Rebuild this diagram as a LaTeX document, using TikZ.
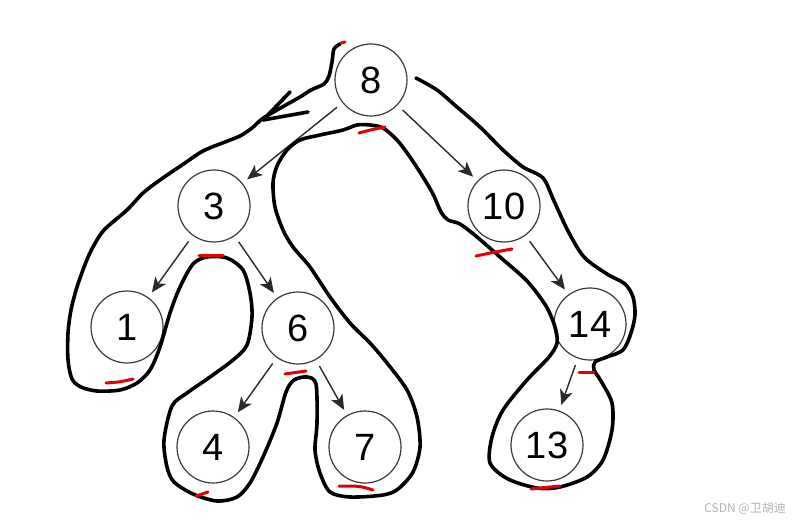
\documentclass[tikz,border=0pt]{standalone}
\usepackage{fontspec}
\setmainfont{Liberation Sans}
\newfontfamily\cjkfont{Noto Sans CJK SC}
\usetikzlibrary{arrows.meta}
\definecolor{nodeline}{HTML}{3A3A3A}
\definecolor{edgeline}{HTML}{2A2A2A}
\definecolor{wm}{HTML}{B4B4B4}
\tikzset{
  treenode/.style={circle, draw=nodeline, line width=1.2pt, fill=white, minimum size=72pt, inner sep=0pt, font=\fontsize{38}{40}\selectfont},
  treeedge/.style={draw=edgeline, line width=1.4pt, -{Stealth[length=15pt,width=13pt,inset=4pt]}, shorten <=7pt, shorten >=6pt},
  contour/.style={black, line width=3.6pt, line cap=round, line join=round},
  redmark/.style={red!90!black, line width=3pt, line cap=round}
}
\begin{document}
\begin{tikzpicture}[x=1pt,y=-1pt]
\useasboundingbox (0,0) rectangle (792,524);
\fill[white] (0,0) rectangle (792,524);

% tree nodes
\node[treenode] (n8)  at (371,80)  {8};
\node[treenode] (n3)  at (214,206) {3};
\node[treenode] (n10) at (504,206) {10};
\node[treenode] (n1)  at (127,327) {1};
\node[treenode] (n6)  at (298,328) {6};
\node[treenode] (n14) at (590,324) {14};
\node[treenode] (n4)  at (213,447) {4};
\node[treenode] (n7)  at (365,447) {7};
\node[treenode] (n13) at (547,445) {13};

% tree edges
\draw[treeedge] (n8) -- (n3);
\draw[treeedge] (n8) -- (n10);
\draw[treeedge] (n3) -- (n1);
\draw[treeedge] (n3) -- (n6);
\draw[treeedge] (n6) -- (n4);
\draw[treeedge] (n6) -- (n7);
\draw[treeedge] (n10) -- (n14);
\draw[treeedge] (n14) -- (n13);

% contour (hand-drawn tour), drawn over the tree
\draw[contour] plot[smooth, tension=0.5] coordinates {
 (340,44) (334,49) (332,62) (329,76) (324,84) (311,90) (300,97) (277,110) (262,119) (252,128) (240,136)
 (225,142) (203,151) (182,165) (160,180) (143,193) (127,210) (104,230) (93,247) (86,262) (77,287) (71,310)
 (68,333) (68,360) (72,379) (81,387) (97,391) (120,390) (137,383) (150,370) (160,347) (170,313) (180,287)
 (193,264) (207,257) (227,258) (243,270) (250,293) (252,317) (247,345) (233,360) (210,377) (187,393)
 (172,406) (164,440) (167,467) (174,482) (193,494) (217,501) (237,497) (250,483) (263,457) (277,423)
 (286,392) (294,380) (307,377) (316,384) (317,423) (315,450) (320,473) (330,492) (350,497) (383,495)
 (398,489) (413,472) (420,447) (417,417) (407,390) (387,363) (370,343) (350,323) (330,297) (310,267)
 (293,247) (283,230) (275,207) (273,183) (277,166) (287,150) (300,140) (320,135) (343,130) (357,125)
 (370,125) (383,128) (397,140) (410,157) (423,177) (433,194) (441,212) (448,220) (460,224) (477,237)
 (500,257) (527,281) (546,306) (555,327) (557,343) (549,357) (527,380) (503,410) (492,437) (490,463)
 (508,479) (537,488) (560,487) (587,477) (603,460) (612,430) (612,403) (601,381) (594,370) (595,362)
 (607,357) (623,350) (631,333) (635,315) (633,297) (625,284) (607,274) (584,257) (568,231) (554,201) (543,178)
 (523,167) (503,150) (480,127) (457,107) (437,90) (416,78)
};
% arrowhead drawn on the contour
\draw[contour] (290,92) -- (263,120) -- (308,112);

% red marks
\draw[redmark] (341,43) -- (345,42);
\draw[redmark] (359,133) .. controls (370,130) .. (385,127);
\draw[redmark] (199,255) -- (223,255);
\draw[redmark] (106,383) .. controls (120,382) .. (133,379);
\draw[redmark] (285,374) -- (306,371);
\draw[redmark] (196,496) -- (208,492);
\draw[redmark] (339,486) .. controls (360,486) .. (373,490);
\draw[redmark] (476,256) .. controls (495,252) .. (512,249);
\draw[redmark] (579,372) -- (594,372);
\draw[redmark] (531,489) .. controls (545,488) .. (560,486);

% watermark
\node[anchor=east, text=wm, font=\cjkfont\fontsize{12}{14}\selectfont, inner sep=0pt] (wmark) at (786,508) {CSDN @卫胡迪};
\end{tikzpicture}
\end{document}
